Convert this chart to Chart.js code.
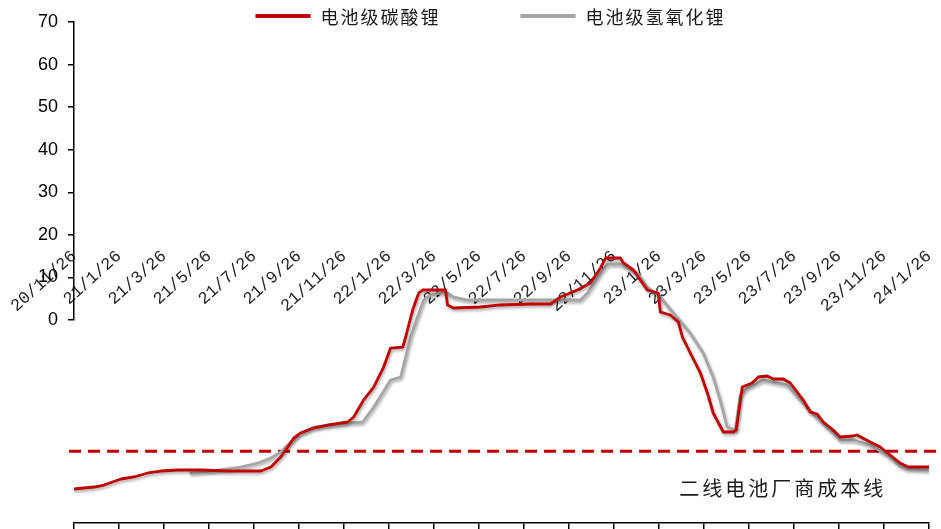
<!DOCTYPE html>
<html>
<head>
<meta charset="utf-8">
<style>
  html, body { margin: 0; padding: 0; background: #fff; }
  #wrap { width: 941px; height: 529px; }
</style>
<script src="https://cdn.jsdelivr.net/npm/chart.js@4.4.1/dist/chart.umd.min.js"></script>
</head>
<body>
<div id="wrap"><canvas id="c" width="941" height="529"></canvas></div>
<script>
// Tick labels, one every two months starting 2020/11/26
const tickLabels = ['20/11/26','21/1/26','21/3/26','21/5/26','21/7/26','21/9/26','21/11/26',
  '22/1/26','22/3/26','22/5/26','22/7/26','22/9/26','22/11/26','23/1/26','23/3/26','23/5/26',
  '23/7/26','23/9/26','23/11/26','24/1/26'];

// Left axis tick values
const axisTicks = [0, 10, 20, 30, 40, 50, 60, 70];

// Series names
const seriesNames = ['电池级碳酸锂', '电池级氢氧化锂'];
const costName = '二线电池厂商成本线';

// Battery-grade lithium carbonate (months since 2020/11/26, price 万元/吨)
const carbonateMonths = [0, 0.89, 1.33, 2.09, 2.66, 2.97, 3.29, 3.86, 4.62, 5.64, 6.84, 8.30, 8.75,
  9.19, 9.50, 9.77, 10.08, 10.65, 11.28, 12.16, 12.43, 12.87, 13.32, 13.76, 14.07, 14.61, 14.74,
  15.05, 15.32, 15.50, 16.51, 16.60, 16.87, 18.07, 18.96, 20.29, 21.18, 21.62, 22.37, 22.95,
  23.40, 23.62, 24.28, 24.42, 24.86, 25.48, 25.97, 26.06, 26.50, 26.86, 27.04, 27.39, 27.84,
  28.15, 28.41, 28.86, 29.30, 29.43, 29.70, 30.14, 30.41, 30.81, 31.08, 31.52, 31.83, 32.14,
  32.41, 32.72, 33.03, 33.30, 33.74, 34.05, 34.63, 34.80, 35.38, 35.83, 36.27, 36.71, 37.07, 38.00];
const carbonatePrice = [4.14, 4.62, 5.10, 6.54, 7.02, 7.50, 7.98, 8.45, 8.69, 8.69, 8.45, 8.45, 9.41,
  11.81, 14.20, 16.36, 17.56, 18.75, 19.47, 20.19, 21.39, 25.46, 28.57, 33.36, 37.91, 38.15, 40.55,
  47.02, 51.09, 51.81, 51.81, 48.22, 47.50, 47.74, 48.22, 48.45, 48.45, 50.13, 51.81, 53.48,
  57.08, 59.47, 59.47, 58.28, 56.60, 51.81, 51.09, 46.54, 45.82, 44.14, 40.55, 36.72, 31.93,
  27.14, 22.35, 17.80, 17.80, 18.28, 28.57, 29.53, 30.97, 31.21, 30.49, 30.49, 29.53, 27.38,
  25.46, 22.59, 22.11, 20.19, 18.27, 16.60, 16.84, 17.08, 15.40, 14.20, 12.29, 10.37, 9.41, 9.41];

// Battery-grade lithium hydroxide
const hydroxideMonths = [5.19, 6.08, 7.41, 8.17, 8.75, 9.19, 9.63, 10.08, 10.65, 11.28, 12.16, 12.83,
  13.32, 14.07, 14.52, 14.96, 15.27, 15.54, 15.85, 16.51, 16.87, 17.49, 22.51, 22.82, 23.40, 23.71,
  24.28, 25.04, 25.48, 26.06, 26.64, 27.39, 27.97, 28.41, 28.72, 29.03, 29.39, 29.61, 29.92, 30.63,
  31.08, 31.70, 32.41, 33.03, 33.74, 34.05, 34.63, 35.38, 36.14, 36.71, 37.02, 38.00];
const hydroxidePrice = [7.98, 8.45, 9.41, 10.37, 11.57, 13.00, 15.40, 17.56, 18.99, 19.47, 19.95, 20.19,
  23.78, 30.25, 30.97, 40.55, 45.34, 49.41, 50.61, 51.33, 50.13, 49.41, 49.41, 51.09, 55.88, 58.04,
  58.04, 55.88, 52.53, 50.13, 46.30, 41.51, 36.72, 30.97, 25.46, 18.99, 18.28, 26.70, 28.33, 30.25,
  29.77, 29.05, 24.74, 21.15, 17.56, 15.88, 15.88, 14.68, 12.29, 9.65, 8.93, 8.69];

// Second-tier cell maker cost level
const costLevel = 13.2;

const RED = '#C00000';
const GREY = '#A6A6A6';

const toPoints = (xs, ys) => xs.map((x, i) => ({ x, y: ys[i] }));

// Keep an axis from reserving extra room around the plot
const noPadding = s => { s.paddingLeft = 0; s.paddingRight = 0; s.paddingTop = 0; s.paddingBottom = 0; };

// Soft drop shadow under the two price lines
const lineShadow = {
  id: 'lineShadow',
  beforeDatasetDraw(chart, args) {
    if (args.index > 1) return;
    const ctx = chart.ctx;
    ctx.save();
    ctx.shadowColor = 'rgba(0,0,0,0.35)';
    ctx.shadowBlur = 3;
    ctx.shadowOffsetX = 1;
    ctx.shadowOffsetY = 2;
  },
  afterDatasetDraw(chart, args) {
    if (args.index > 1) return;
    chart.ctx.restore();
  }
};

// Legend row and the cost-line caption
const captions = {
  id: 'captions',
  afterDraw(chart) {
    const ctx = chart.ctx;
    const ds = chart.data.datasets;
    ctx.save();
    ctx.font = '18px "Noto Sans CJK SC"';
    ctx.letterSpacing = '2px';
    ctx.textBaseline = 'middle';
    ctx.textAlign = 'left';
    const sw = 55, tg = 10, gap = 80, ly = 16;
    const widths = [0, 1].map(i => ctx.measureText(ds[i].label).width);
    const total = widths[0] + widths[1] + 2 * (sw + tg) + gap;
    let x = chart.width / 2 + 20 - total / 2;
    [0, 1].forEach(i => {
      ctx.fillStyle = ds[i].borderColor;
      ctx.fillRect(x, ly - 2, sw, 4);
      ctx.fillStyle = '#1a1a1a';
      ctx.fillText(ds[i].label, x + sw + tg, ly + 1);
      x += sw + tg + widths[i] + gap;
    });

    const xs = chart.scales.x, ys = chart.scales.yd;
    ctx.font = '20px "Noto Sans CJK SC"';
    ctx.letterSpacing = '3px';
    ctx.textAlign = 'center';
    ctx.fillStyle = '#1a1a1a';
    ctx.fillText(ds[2].label, xs.getPixelForValue(31.5), ys.getPixelForValue(costLevel) + 37);
    ctx.restore();
  }
};

new Chart(document.getElementById('c'), {
  type: 'line',
  data: {
    datasets: [
      {
        label: seriesNames[0],
        data: toPoints(carbonateMonths, carbonatePrice),
        borderColor: RED, backgroundColor: RED,
        borderWidth: 2.8, pointRadius: 0, tension: 0,
        borderJoinStyle: 'round', borderCapStyle: 'round',
        xAxisID: 'x', yAxisID: 'yd'
      },
      {
        label: seriesNames[1],
        data: toPoints(hydroxideMonths, hydroxidePrice),
        borderColor: GREY, backgroundColor: GREY,
        borderWidth: 2.8, pointRadius: 0, tension: 0,
        borderJoinStyle: 'round', borderCapStyle: 'round',
        xAxisID: 'x', yAxisID: 'yd'
      },
      {
        label: costName,
        data: [{ x: -0.22, y: costLevel }, { x: 38.55, y: costLevel }],
        borderColor: RED, borderWidth: 3, borderDash: [12, 7],
        pointRadius: 0, clip: false,
        xAxisID: 'x', yAxisID: 'yd'
      }
    ]
  },
  options: {
    responsive: false,
    animation: false,
    devicePixelRatio: 1,
    layout: { padding: { left: 28, right: 12, top: 22, bottom: 0 } },
    plugins: { legend: { display: false }, tooltip: { enabled: false } },
    scales: {
      x: {
        type: 'linear', position: 'bottom', min: 0, max: 38,
        afterFit: noPadding,
        ticks: { display: false, stepSize: 2 },
        grid: { drawOnChartArea: false, drawTicks: true, tickLength: 6, color: '#000', lineWidth: 1.5 },
        border: { display: true, color: '#000', width: 1.5 }
      },
      xl: {
        type: 'linear', position: { y: 18 }, min: 0, max: 38,
        afterFit: noPadding,
        ticks: {
          stepSize: 2, autoSkip: false, minRotation: 42, maxRotation: 42, padding: 3,
          color: '#222', font: { family: '"Liberation Mono"', size: 17 },
          callback: v => tickLabels[Math.round(v / 2)]
        },
        grid: { display: false, drawTicks: false },
        border: { display: false }
      },
      yd: { type: 'linear', position: 'left', min: -4, max: 116, display: false },
      y: {
        type: 'linear', position: 'left', stack: 'left', stackWeight: 298, weight: 2,
        min: 0, max: 70,
        afterFit: noPadding,
        afterBuildTicks: s => { s.ticks = axisTicks.map(v => ({ value: v })); },
        ticks: { autoSkip: false, padding: 10, color: '#000', font: { family: '"Liberation Sans"', size: 18 } },
        grid: { drawOnChartArea: false, drawTicks: true, tickLength: 6, color: '#000', lineWidth: 1.5 },
        border: { display: true, color: '#000', width: 1.5 }
      },
      yPad: {
        type: 'linear', position: 'left', stack: 'left', stackWeight: 203, weight: 1,
        afterFit: noPadding,
        ticks: { display: false },
        grid: { display: false, drawTicks: false },
        border: { display: false }
      }
    }
  },
  plugins: [lineShadow, captions]
});
</script>
</body>
</html>
